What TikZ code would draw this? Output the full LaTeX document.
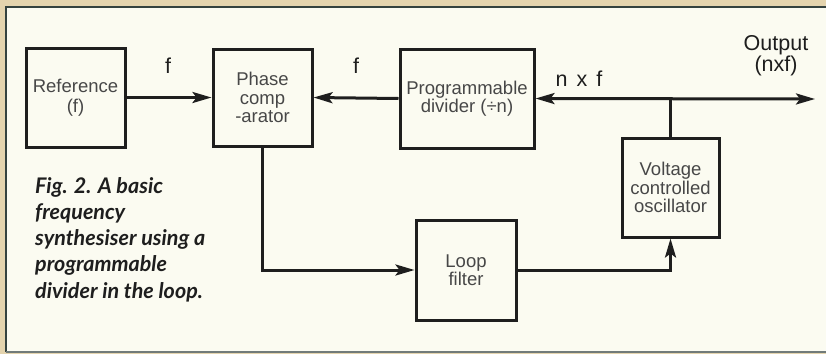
\documentclass[tikz,border=0pt]{standalone}
\usepackage{fontspec}
\setmainfont{Liberation Sans}
\newfontfamily\capfont{Lato}
\usetikzlibrary{arrows.meta}
\definecolor{paper}{HTML}{FBFBF1}
\definecolor{band}{HTML}{E4D4AE}
\definecolor{frameline}{HTML}{34423F}
\definecolor{boxtext}{HTML}{474747}
\definecolor{ink}{HTML}{1E1E1E}
\tikzset{
  blockbox/.style={draw=ink, line width=3pt, inner sep=0pt, align=center,
    text=boxtext, font=\fontsize{18.5}{18.5}\selectfont},
  wire/.style={draw=ink, line width=3pt},
  tip/.style={-{Stealth[length=19pt,width=11pt,inset=4pt]}},
  lbl/.style={inner sep=0pt, text=ink, font=\fontsize{21.5}{19}\selectfont, align=center}
}
\begin{document}
\begin{tikzpicture}[x=1pt,y=-1pt]
\useasboundingbox (0,0) rectangle (826,354);
% paper
\fill[band] (0,0) rectangle (826,354);
\fill[paper] (6,7) rectangle (826,352);
\draw[frameline, line width=1.8pt] (6,352) -- (6,7) -- (826,7);
\draw[frameline!70, line width=1.4pt] (6,352) -- (826,352);
% blocks
\node[blockbox, minimum width=99pt, minimum height=99pt] (ref) at (75.5,97.5) {Reference\\[1pt](f)};
\node[blockbox, minimum width=99pt, minimum height=97pt] (phase) at (262.5,97.5) {Phase\\comp\\-arator};
\node[blockbox, minimum width=134pt, minimum height=99pt] (prog) at (467,98.5) {Programmable\\divider (÷n)};
\node[blockbox, minimum width=97pt, minimum height=99pt] (vco) at (670.5,187.5) {Voltage\\controlled\\oscillator};
\node[blockbox, minimum width=100pt, minimum height=100pt] (loop) at (466,270) {Loop\\filter};
\coordinate (out) at (815,99);
% connectors
\draw[wire, tip] (ref.east) -- (phase.west);
\draw[wire, tip] (prog.west) -- (phase.east);
\draw[wire, {Stealth[length=19pt,width=11pt,inset=4pt]}-{Stealth[length=19pt,width=11pt,inset=4pt]}] (prog.east) -- (out);
\draw[wire] (vco.north) -- (vco.north |- out);
\draw[wire, tip] (phase.south) -- (phase.south |- loop.west) -- (loop.west);
\draw[wire, tip] (loop.east) -- (vco.south |- loop.east) -- (vco.south);
% labels
\node[lbl] (f1) at (168,66) {f};
\node[lbl] (f2) at (356,66) {f};
\node[lbl] (nxf) at (579,79) {\spaceskip=0.42em n x f};
\node[lbl] (outl) at (776,56) {Output\\(nxf)};
% caption
\node[inner sep=0pt, anchor=north west, align=left, text=ink,
  font=\capfont\bfseries\itshape\fontsize{21.5}{26.25}\selectfont] (cap) at (35,177)
  {Fig. 2. A basic\\frequency\\synthesiser using a\\programmable\\divider in the loop.};
\end{tikzpicture}
\end{document}
